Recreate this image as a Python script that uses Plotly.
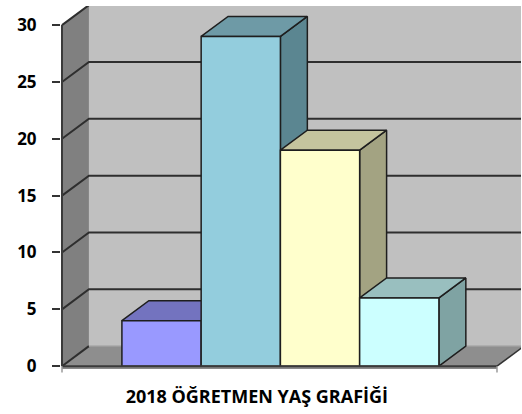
import plotly.graph_objects as go

# ---- data ----
categories = ["Grup 1", "Grup 2", "Grup 3", "Grup 4"]
values = [4, 29, 19, 6]
front_colors = ["#9999FF", "#93CDDD", "#FFFFCC", "#CCFFFF"]
top_colors = ["#7373BF", "#6E9AA6", "#C4C49E", "#99BFBF"]
side_colors = ["#5C5C99", "#5B8691", "#A3A382", "#7FA3A3"]
y_ticks = [0, 5, 10, 15, 20, 25, 30]
title_text = "2018 ÖĞRETMEN YAŞ GRAFİĞİ"

# ---- 3D geometry (in axis units) ----
DX = 0.34      # depth along category axis
DY = 1.76      # depth along value axis
X_LEFT = -1.256
X_FR = 4.233
X_MIN = -1.2686
X_MAX = 4.536
Y_MIN = -0.6
Y_MAX = 31.68
Y_TOP = y_ticks[-1]
W = 1.0        # bar width in category units

fig = go.Figure()

def poly(xs, ys, fill, line_color=None, lw=0):
    fig.add_trace(go.Scatter(
        x=xs + [xs[0]], y=ys + [ys[0]], mode="lines", fill="toself",
        fillcolor=fill,
        line=dict(color=line_color or fill, width=lw),
        hoverinfo="skip", showlegend=False))

def path(xs, ys, color, lw):
    fig.add_trace(go.Scatter(x=xs, y=ys, mode="lines",
                             line=dict(color=color, width=lw),
                             hoverinfo="skip", showlegend=False,
                             connectgaps=False))

# back wall
poly([X_LEFT + DX, X_MAX + 1, X_MAX + 1, X_LEFT + DX],
     [DY, DY, Y_TOP + DY, Y_TOP + DY], "#C0C0C0")
# left wall
poly([X_LEFT, X_LEFT, X_LEFT + DX, X_LEFT + DX],
     [0, Y_TOP, Y_TOP + DY, DY], "#808080")
# floor
poly([X_LEFT, X_LEFT + DX, X_FR + DX, X_FR],
     [0, DY, DY, 0], "#8E8E8E")
# floor front strip
poly([X_LEFT, X_FR, X_FR, X_LEFT], [0, 0, -0.25, -0.25], "#8A8A8A")

# gridlines on walls
gx, gy = [], []
for v in y_ticks:
    if v == 0:
        gx += [X_LEFT, X_LEFT + DX, None]
        gy += [v, v + DY, None]
    else:
        gx += [X_LEFT, X_LEFT + DX, X_MAX + 1, None]
        gy += [v, v + DY, v + DY, None]
path(gx, gy, "#2E2E2E", 2)
# floor back edge & right edge
path([X_LEFT + DX, X_MAX + 1], [DY, DY], "#9C9C9C", 1.5)
path([X_FR, X_FR + DX], [0, DY], "#333333", 1.5)

# bars
for i, v in enumerate(values):
    x0, x1 = i - W / 2, i + W / 2
    poly([x1, x1, x1 + DX, x1 + DX], [0, v, v + DY, DY],
         side_colors[i], "#1E1E1E", 1.5)
    poly([x0, x0 + DX, x1 + DX, x1], [v, v + DY, v + DY, v],
         top_colors[i], "#1E1E1E", 1.5)
    poly([x0, x0, x1, x1], [0, v, v, 0],
         front_colors[i], "#1E1E1E", 1.5)

# front axes
path([X_LEFT, X_LEFT], [0, Y_TOP], "#3A3A3A", 2)
path([X_LEFT, X_FR], [0, 0], "#3A3A3A", 2)
path([X_LEFT, X_LEFT, None, X_FR, X_FR], [0, -0.55, None, 0, -0.55], "#9A9A9A", 1.5)

fig.update_layout(
    width=522, height=414,
    margin=dict(l=61, r=1, t=6, b=41),
    paper_bgcolor="white", plot_bgcolor="white",
    showlegend=False,
    font=dict(family="Open Sans", color="black"),
    title=dict(text="<b>" + title_text + "</b>", xref="container", yref="container",
               x=0.492, y=0.042, xanchor="center", yanchor="middle",
               font=dict(size=18, family="Open Sans", color="black")),
    xaxis=dict(range=[X_MIN, X_MAX], showgrid=False, zeroline=False,
               showticklabels=False, ticks="", showline=False, fixedrange=True),
    yaxis=dict(range=[Y_MIN, Y_MAX], showgrid=False, zeroline=False,
               tickmode="array", tickvals=y_ticks,
               ticktext=["<b>%d</b>" % t for t in y_ticks],
               ticks="outside", ticklen=8, tickwidth=2, tickcolor="#333333",
               ticklabelstandoff=12,
               tickfont=dict(size=17, family="Open Sans", color="black"),
               showline=False, fixedrange=True),
)

fig.write_html("out.html", config={"displayModeBar": False},
               post_script="document.body.style.margin='0';document.body.style.overflow='hidden';")
